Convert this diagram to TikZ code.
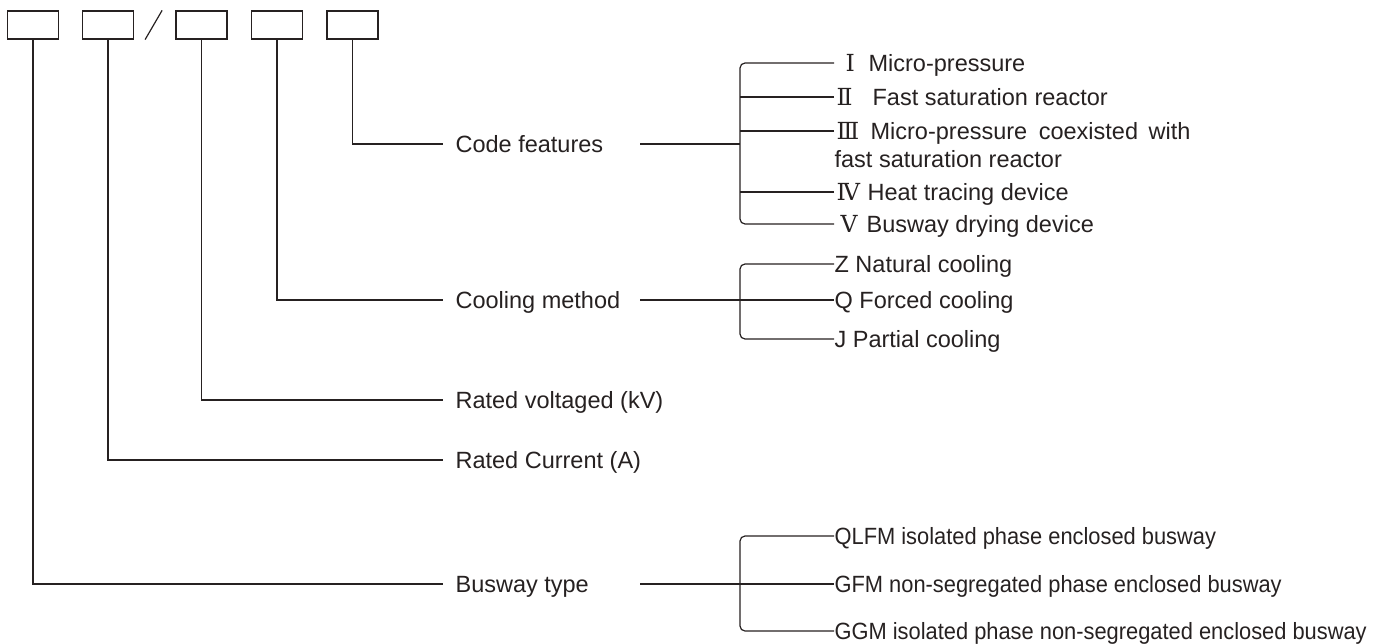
\documentclass[tikz,border=0pt]{standalone}
\usepackage{fontspec}
\setmainfont{Liberation Sans}
\newfontfamily\numfont{DejaVu Serif}
\usetikzlibrary{positioning}
\definecolor{ink}{RGB}{38,33,33}
\newcommand\rnum[3]{\makebox[#1][l]{\hspace{#2}{\numfont #3}}}
\newcommand\narrowtxt[1]{\scalebox{0.93}[1]{#1}}

\begin{document}
\begin{tikzpicture}[x=1pt,y=-1pt,line width=1.2pt,color=ink,font=\fontsize{23.5}{28}\selectfont]
    \tikzstyle{codebox} = [rectangle, draw, minimum width=51pt, minimum height=28pt, inner sep=0pt]
    \tikzstyle{fieldtext} = [anchor=west, inner sep=0pt, text height=17pt, text depth=1pt]
    \tikzstyle{itemtext} = [anchor=west, inner sep=0pt, text height=17pt, text depth=1pt]

    \useasboundingbox (0,0) rectangle (1378,643);

    % the five code boxes
    \node (b1) [codebox] at (33,25) {};
    \node (b2) [codebox] at (108,25) {};
    \node (b3) [codebox] at (201.5,25) {};
    \node (b4) [codebox] at (277,25) {};
    \node (b5) [codebox] at (352.5,25) {};
    \draw ([xshift=11pt]b2.south east) -- ([xshift=28pt]b2.north east);

    % field names
    \node (fcode) [fieldtext] at (455,144) {Code features};
    \node (fcool) [fieldtext] at (455,300) {Cooling method};
    \node (fvolt) [fieldtext] at (455,400) {Rated voltaged (kV)};
    \node (fcurr) [fieldtext] at (455,460) {Rated Current (A)};
    \node (ftype) [fieldtext] at (455,584) {Busway type};

    \draw (b5.south) |- ([xshift=-12pt]fcode.west);
    \draw (b4.south) |- ([xshift=-12pt]fcool.west);
    \draw (b3.south) |- ([xshift=-12pt]fvolt.west);
    \draw (b2.south) |- ([xshift=-12pt]fcurr.west);
    \draw (b1.south) |- ([xshift=-12pt]ftype.west);

    % code features
    \node (it1) [itemtext] at (834,63) {\rnum{34pt}{11pt}{Ⅰ}Micro-pressure};
    \node (it2) [itemtext] at (834,97) {\rnum{38pt}{2pt}{Ⅱ}Fast saturation reactor};
    \node (it3) [itemtext] at (834,131) {\rnum{36pt}{2pt}{Ⅲ}Micro-pressure\hspace{5pt} coexisted\hspace{4pt} with};
    \node (it3b) [itemtext] at ([yshift=-28pt]it3.west) {fast saturation reactor};
    \node (it4) [itemtext] at (834,192) {\rnum{33pt}{2pt}{Ⅳ}Heat tracing device};
    \node (it5) [itemtext] at (834,224) {\rnum{32pt}{6pt}{Ⅴ}Busway drying device};

    \coordinate (jcode) at (740,144);
    \draw[rounded corners=5pt] (it1.west) -| (jcode) |- (it5.west);
    \draw (it2.west) -- (it2.west -| jcode);
    \draw (it3.west) -- (it3.west -| jcode);
    \draw (it4.west) -- (it4.west -| jcode);
    \draw ([xshift=-100pt]jcode) -- (jcode);

    % cooling method
    \node (cz) [itemtext] at (834,264) {Z Natural cooling};
    \node (cq) [itemtext] at (834,300) {Q Forced cooling};
    \node (cj) [itemtext] at (834,339) {J Partial cooling};

    \coordinate (jcool) at (740,300);
    \draw[rounded corners=5pt] (cz.west) -| (jcool) |- (cj.west);
    \draw ([xshift=-100pt]jcool) -- (cq.west);

    % busway type
    \node (tq) [itemtext] at (834,536) {\narrowtxt{QLFM isolated phase enclosed busway}};
    \node (tg) [itemtext] at (834,584) {\narrowtxt{GFM non-segregated phase enclosed busway}};
    \node (tgg) [itemtext] at (834,631) {\narrowtxt{GGM isolated phase non-segregated enclosed busway}};

    \coordinate (jtype) at (740,584);
    \draw[rounded corners=5pt] (tq.west) -| (jtype) |- (tgg.west);
    \draw ([xshift=-100pt]jtype) -- (tg.west);
\end{tikzpicture}
\end{document}
